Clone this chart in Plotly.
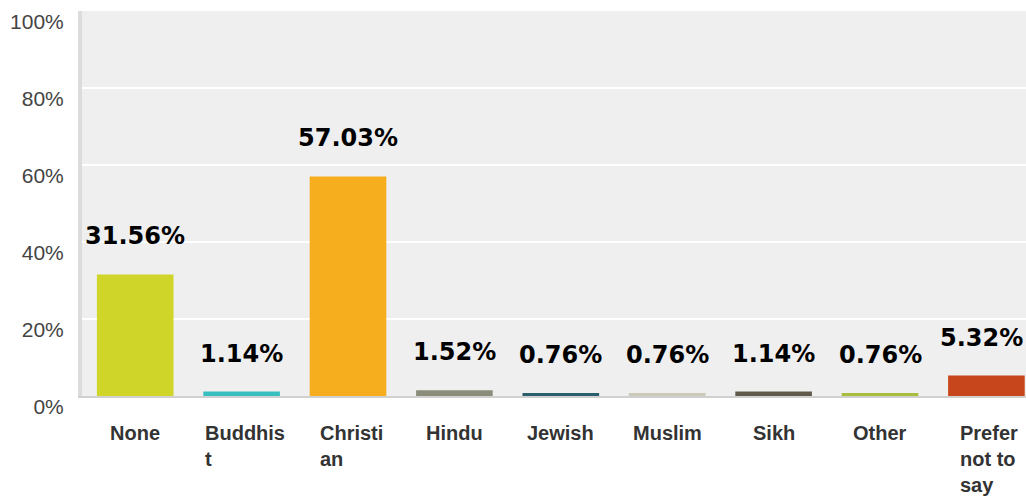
import plotly.graph_objects as go

categories = ['None', 'Buddhist', 'Christian', 'Hindu', 'Jewish', 'Muslim', 'Sikh', 'Other', 'Prefer not to say']
tick_labels = ['None', 'Buddhis<br>t', 'Christi<br>an', 'Hindu', 'Jewish', 'Muslim', 'Sikh', 'Other', 'Prefer<br>not to<br>say']
percents = [31.56, 1.14, 57.03, 1.52, 0.76, 0.76, 1.14, 0.76, 5.32]
colors = ['#d0d52a', '#38c0c0', '#f6ae1f', '#8b8d7a', '#2c5f6e', '#ccc9b8', '#5f5a4b', '#a9bd3c', '#c8461c']

fig = go.Figure()

fig.add_trace(
    go.Bar(
        x=list(range(len(categories))),
        y=percents,
        width=0.72,
        marker=dict(color=colors, line_width=0),
        hovertext=categories,
        showlegend=False,
    )
)

# value labels, floating ~40px above each bar
n = len(percents)
for i, v in enumerate(percents):
    fig.add_annotation(
        x=i, y=v, xref='x', yref='y',
        text=f'{v:.2f}%',
        showarrow=False,
        yanchor='middle',
        yshift=38,
        xshift=-5 if i == n - 1 else 0,  # keep last one inside the page
        font=dict(family='DejaVu Sans', size=24, color='#000000', weight='bold'),
    )

# category labels, left-aligned inside a centered box
for i, lab in enumerate(tick_labels):
    fig.add_annotation(
        x=i, y=0, xref='x', yref='paper',
        text=lab,
        showarrow=False,
        xanchor='center',
        yanchor='top',
        align='left',
        yshift=-24,
        xshift=3 if '<br>' in lab else 0,
        font=dict(family='Liberation Sans, Arial', size=20, color='#333333', weight='bold'),
    )

fig.update_layout(
    width=1026,
    height=497,
    margin=dict(l=82, r=0, t=11, b=101),
    paper_bgcolor='white',
    plot_bgcolor='#efefef',
    xaxis=dict(
        range=[-0.5, 8.372],
        showticklabels=False,
        showgrid=False,
        zeroline=False,
        showline=True,
        linecolor='#d0d0d0',
        linewidth=2,
        fixedrange=True,
    ),
    yaxis=dict(
        range=[0, 100],
        tickvals=[0, 20, 40, 60, 80, 100],
        ticktext=['0%', '20%', '40%', '60%', '80%', '100%'],
        ticks='',
        ticklabelstandoff=10,
        ticklabelshift=11,
        tickfont=dict(family='Liberation Sans, Arial', size=21, color='#444444'),
        showgrid=True,
        gridcolor='white',
        gridwidth=2,
        zeroline=False,
        showline=True,
        linecolor='#dcdcdc',
        linewidth=4,
        fixedrange=True,
    ),
)

fig.write_html('out.html', config={'displayModeBar': False},
               post_script="document.body.style.margin='0px';")
